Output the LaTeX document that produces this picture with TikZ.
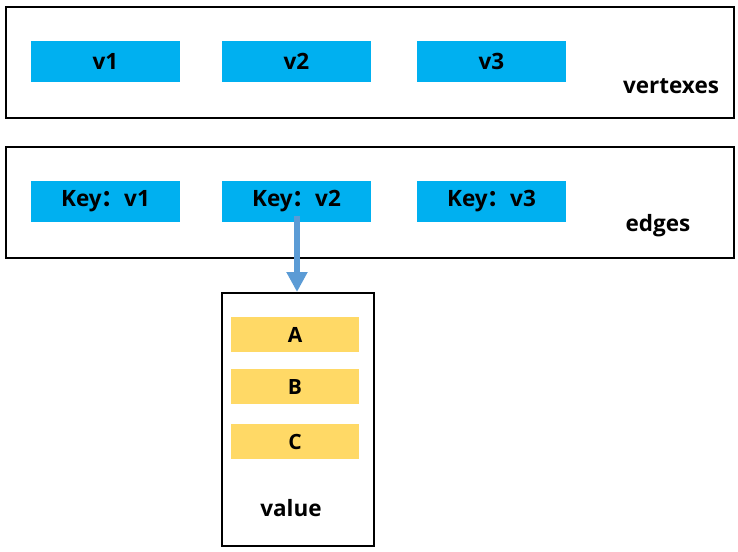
\documentclass[tikz,border=0pt]{standalone}
\usepackage{fontspec}
\setmainfont{Open Sans}
\newfontfamily\cjk{Noto Sans CJK SC}
\usetikzlibrary{arrows.meta}
\definecolor{cblue}{HTML}{00B0F0}
\definecolor{cyellow}{HTML}{FFD966}
\definecolor{carrow}{HTML}{5B9BD5}
\begin{document}
\begin{tikzpicture}[x=1pt,y=-1pt,
  frame/.style={draw=black,line width=2pt},
  bluebox/.style={fill=cblue,draw=none,font=\bfseries\fontsize{22.5}{24}\selectfont,inner sep=0pt},
  yelbox/.style={fill=cyellow,draw=none,font=\bfseries\fontsize{21}{22}\selectfont,inner sep=0pt},
  lbl/.style={font=\bfseries\fontsize{22.5}{24}\selectfont,inner sep=0pt}]
\useasboundingbox (0,0) rectangle (738,551);
% frames
\node[frame,minimum width=728pt,minimum height=111pt,anchor=north west,inner sep=0pt] (vframe) at (5,6) {};
\node[frame,minimum width=728pt,minimum height=111pt,anchor=north west,inner sep=0pt] (eframe) at (5,146) {};
\node[frame,minimum width=152pt,minimum height=253pt,anchor=north west,inner sep=0pt] (valframe) at (221,292) {};
% vertex boxes
\node[bluebox,minimum width=149pt,minimum height=41pt] (v1) at (105.5,61.5) {v1};
\node[bluebox,minimum width=149pt,minimum height=41pt] (v2) at (296.5,61.5) {v2};
\node[bluebox,minimum width=149pt,minimum height=41pt] (v3) at (491.5,61.5) {v3};
% edge boxes
\node[bluebox,minimum width=149pt,minimum height=41pt] (k1) at (105.5,201.5) {Key{\cjk\bfseries ：}v1};
\node[bluebox,minimum width=149pt,minimum height=41pt] (k2) at (296.5,201.5) {Key{\cjk\bfseries ：}v2};
\node[bluebox,minimum width=149pt,minimum height=41pt] (k3) at (491.5,201.5) {Key{\cjk\bfseries ：}v3};
% labels
\node[lbl] (vl) at (671,86) {vertexes};
\node[lbl] (el) at (658,226) {edges};
\node[lbl] (val) at (291,508) {value};
% value items
\node[yelbox,minimum width=128pt,minimum height=35pt] (a) at (295,334.5) {A};
\node[yelbox,minimum width=128pt,minimum height=35pt] (b) at (295,386.5) {B};
\node[yelbox,minimum width=128pt,minimum height=35pt] (c) at (295,441.5) {C};
% arrow
\coordinate (s) at (297,216);
\draw[carrow,line width=6pt,-{Triangle[width=20pt,length=20pt]}] (s) -- (valframe.north -| s);
\end{tikzpicture}
\end{document}
